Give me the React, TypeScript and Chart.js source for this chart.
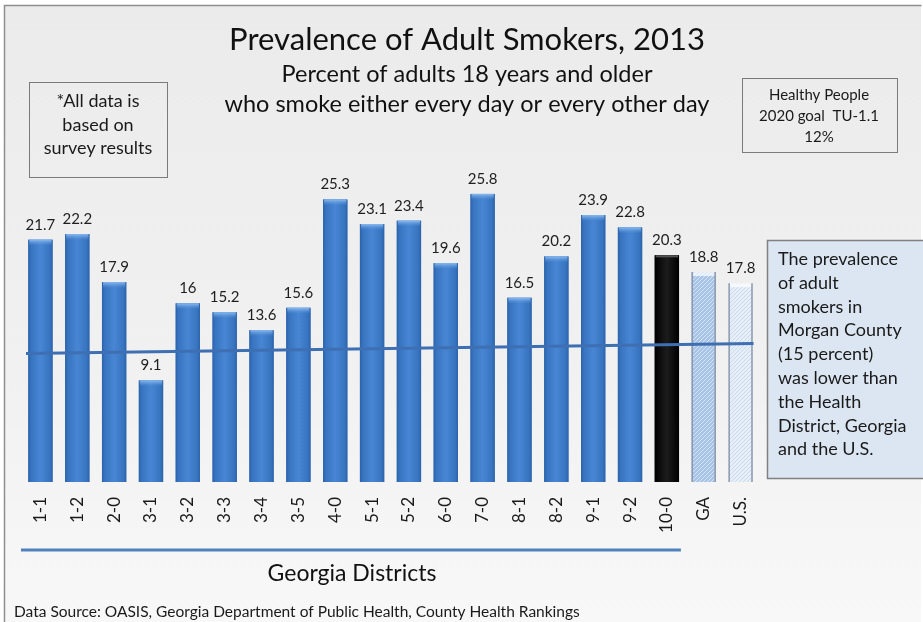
import React, { useEffect, useRef } from "react";
import { Chart, registerables } from "chart.js";

Chart.register(...registerables);

// ---------- data ----------
const categories = ["1-1", "1-2", "2-0", "3-1", "3-2", "3-3", "3-4", "3-5", "4-0", "5-1", "5-2", "6-0", "7-0", "8-1", "8-2", "9-1", "9-2", "10-0", "GA", "U.S."];
const prevalence = [21.7, 22.2, 17.9, 9.1, 16, 15.2, 13.6, 15.6, 25.3, 23.1, 23.4, 19.6, 25.8, 16.5, 20.2, 23.9, 22.8, 20.3, 18.8, 17.8];
const valueLabels = ["21.7", "22.2", "17.9", "9.1", "16", "15.2", "13.6", "15.6", "25.3", "23.1", "23.4", "19.6", "25.8", "16.5", "20.2", "23.9", "22.8", "20.3", "18.8", "17.8"];
const barKinds = ["d", "d", "d", "d", "d", "d", "d", "d", "d", "d", "d", "d", "d", "d", "d", "d", "d", "county", "ga", "us"];
const goalLineStart = 11.5; // goal line (12%) as drawn, slightly skewed in the source
const goalLineEnd = 12.4;
const districtCount = 18;

const titleText = "Prevalence of Adult Smokers, 2013";
const subtitleLines = ["Percent of adults 18 years and older", "who smoke either every day or every other day"];
const noteLines = ["*All data is", "based on", "survey results"];
const goalBoxLines = ["Healthy People", "2020 goal  TU-1.1", "12%"];
const summaryLines = ["The prevalence", "of adult", "smokers in", "Morgan County", "(15 percent)", "was lower than", "the Health", "District, Georgia", "and the U.S."];
const xAxisTitle = "Georgia Districts";
const sourceText = "Data Source: OASIS, Georgia Department of Public Health, County Health Rankings";

const FONT = 'Lato, "Open Sans", "DejaVu Sans", sans-serif';
const W = 923;
const H = 622;

const solidColors: Record<string, string> = {
  d: "#3f7cc8",
  county: "#050505",
  ga: "#a9c4e6",
  us: "#e2ecf7",
};

function makePattern(ctx: CanvasRenderingContext2D, base: string, dot: string) {
  const c = document.createElement("canvas");
  c.width = 4;
  c.height = 4;
  const p = c.getContext("2d")!;
  p.fillStyle = base;
  p.fillRect(0, 0, 4, 4);
  p.fillStyle = dot;
  p.fillRect(0, 0, 1, 1);
  p.fillRect(2, 2, 1, 1);
  p.fillRect(1, 3, 1, 1);
  p.fillRect(3, 1, 1, 1);
  return ctx.createPattern(c, "repeat")!;
}

const decorPlugin = {
  id: "decor",
  beforeDraw(chart: any) {
    const ctx: CanvasRenderingContext2D = chart.ctx;
    ctx.save();
    ctx.fillStyle = "#ffffff";
    ctx.fillRect(0, 0, W, H);
    const g = ctx.createLinearGradient(0, 5, 0, H);
    g.addColorStop(0, "#ebebeb");
    g.addColorStop(0.6, "#f1f1f1");
    g.addColorStop(1, "#f8f8f8");
    ctx.fillStyle = g;
    ctx.fillRect(4, 5, W - 6, H - 5);
    ctx.strokeStyle = "#8e8e8e";
    ctx.lineWidth = 1.5;
    ctx.beginPath();
    ctx.moveTo(4.5, H);
    ctx.lineTo(4.5, 5.5);
    ctx.lineTo(W - 1.5, 5.5);
    ctx.stroke();

    // title + subtitle
    ctx.fillStyle = "#111111";
    ctx.textAlign = "center";
    ctx.textBaseline = "alphabetic";
    ctx.font = `31px ${FONT}`;
    ctx.fillText(titleText, 467, 50);
    ctx.font = `23.5px ${FONT}`;
    ctx.fillText(subtitleLines[0], 467, 82);
    ctx.fillText(subtitleLines[1], 467, 112);

    // note box (left)
    ctx.strokeStyle = "#7a7a7a";
    ctx.lineWidth = 1;
    ctx.strokeRect(29.5, 82.5, 138, 95);
    ctx.font = `18px ${FONT}`;
    ctx.fillStyle = "#1a1a1a";
    noteLines.forEach((t, i) => ctx.fillText(t, 98, 107 + i * 23.5));

    // goal box (right)
    ctx.strokeRect(742.5, 78.5, 155, 74);
    ctx.font = `15px ${FONT}`;
    goalBoxLines.forEach((t, i) => ctx.fillText(t, 819, 99.5 + i * 21));

    // summary box
    ctx.fillStyle = "#dce6f2";
    ctx.fillRect(767, 240, 156, 238);
    ctx.strokeStyle = "#808080";
    ctx.lineWidth = 1.5;
    ctx.strokeRect(767.5, 240.5, 160, 238);
    ctx.fillStyle = "#1a1a1a";
    ctx.textAlign = "left";
    ctx.font = `18px ${FONT}`;
    summaryLines.forEach((t, i) => ctx.fillText(t, 778, 265 + i * 23.8));

    // footer
    ctx.font = `15.5px ${FONT}`;
    ctx.fillText(sourceText, 14, 617);
    ctx.restore();
  },
  afterDatasetsDraw(chart: any) {
    const ctx: CanvasRenderingContext2D = chart.ctx;
    const meta = chart.getDatasetMeta(0);
    const xs = chart.scales.x;
    const ys = chart.scales.y;
    ctx.save();
    const gaPat = makePattern(ctx, "#a7c3e6", "#d6e4f5");
    const usPat = makePattern(ctx, "#e6eef8", "#c9d8ea");
    meta.data.forEach((el: any, i: number) => {
      const kind = barKinds[i];
      const left = el.x - el.width / 2;
      const top = el.y;
      const h = el.base - el.y;
      const w = el.width;
      if (kind === "d") {
        const g = ctx.createLinearGradient(left, 0, left + w, 0);
        g.addColorStop(0, "#2c63a9");
        g.addColorStop(0.12, "#3874c0");
        g.addColorStop(0.5, "#4886d3");
        g.addColorStop(0.88, "#3874c0");
        g.addColorStop(1, "#2c63a9");
        ctx.fillStyle = g;
        ctx.fillRect(left, top, w, h);
        const cap = ctx.createLinearGradient(0, top, 0, top + 6);
        cap.addColorStop(0, "#8dbcf0");
        cap.addColorStop(1, "rgba(90,150,220,0)");
        ctx.fillStyle = cap;
        ctx.fillRect(left + 1, top, w - 2, 6);
      } else if (kind === "county") {
        const g = ctx.createLinearGradient(left, 0, left + w, 0);
        g.addColorStop(0, "#000000");
        g.addColorStop(0.5, "#1c1c1c");
        g.addColorStop(1, "#000000");
        ctx.fillStyle = g;
        ctx.fillRect(left, top, w, h);
        ctx.fillStyle = "#555555";
        ctx.fillRect(left + 1, top, w - 2, 2);
      } else {
        ctx.fillStyle = kind === "ga" ? gaPat : usPat;
        ctx.fillRect(left, top, w, h);
        ctx.fillStyle = "#ffffff";
        ctx.globalAlpha = 0.7;
        ctx.fillRect(left + 1, top, w - 2, 4);
        ctx.globalAlpha = 1;
        ctx.strokeStyle = "#8d9aab";
        ctx.lineWidth = 1.5;
        ctx.beginPath();
        ctx.moveTo(left + 0.75, top);
        ctx.lineTo(left + 0.75, top + h);
        ctx.moveTo(left + w - 0.75, top);
        ctx.lineTo(left + w - 0.75, top + h);
        ctx.stroke();
      }
    });

    // goal line across the bars
    const x0 = chart.chartArea.left + 4;
    const x1 = meta.data[meta.data.length - 1].x + 13;
    ctx.strokeStyle = "#3f6fb3";
    ctx.lineWidth = 3;
    ctx.beginPath();
    ctx.moveTo(x0, ys.getPixelForValue(goalLineStart));
    ctx.lineTo(x1, ys.getPixelForValue(goalLineEnd));
    ctx.stroke();

    // value labels
    ctx.fillStyle = "#1e1e1e";
    ctx.font = `15px ${FONT}`;
    ctx.textAlign = "center";
    ctx.textBaseline = "alphabetic";
    meta.data.forEach((el: any, i: number) => {
      ctx.fillText(valueLabels[i], el.x, el.y - 10);
    });

    // district bracket line + axis title
    const lx0 = chart.chartArea.left - 1;
    const lx1 = xs.getPixelForValue(districtCount - 1) + 14;
    ctx.strokeStyle = "#4f81bd";
    ctx.lineWidth = 3;
    ctx.beginPath();
    ctx.moveTo(lx0, 550);
    ctx.lineTo(lx1, 550);
    ctx.stroke();
    ctx.fillStyle = "#111111";
    ctx.font = `23px ${FONT}`;
    ctx.fillText(xAxisTitle, 352, 581);
    ctx.restore();
  },
};

export default function App() {
  const ref = useRef<HTMLCanvasElement | null>(null);
  useEffect(() => {
    if (!ref.current) return;
    const chart = new Chart(ref.current, {
      type: "bar",
      data: {
        labels: categories,
        datasets: [
          {
            label: "Prevalence of adult smokers (%)",
            data: prevalence,
            backgroundColor: barKinds.map((k) => solidColors[k]),
            borderWidth: 0,
            barPercentage: 0.66,
            categoryPercentage: 1,
          },
        ],
      },
      options: {
        responsive: false,
        animation: false,
        layout: { padding: { left: 22, right: 164, top: 147, bottom: 0 } },
        plugins: {
          legend: { display: false },
          tooltip: { enabled: false },
          title: { display: false },
        },
        scales: {
          x: {
            offset: true,
            grid: { display: false, drawTicks: false },
            border: { display: false },
            ticks: {
              autoSkip: false,
              minRotation: 90,
              maxRotation: 90,
              padding: 15,
              color: "#1a1a1a",
              font: { family: FONT, size: 17 },
            },
            afterFit: (s: any) => {
              s.height = 140;
              s.paddingLeft = 0;
              s.paddingRight = 0;
            },
          },
          y: { display: false, min: 0, max: 30 },
        },
      },
      plugins: [decorPlugin],
    });
    return () => chart.destroy();
  }, []);
  return (
    <div style={{ position: "absolute", left: 0, top: 0, width: W, height: H }}>
      <canvas ref={ref} width={W} height={H} style={{ display: "block", width: W, height: H }} />
    </div>
  );
}
